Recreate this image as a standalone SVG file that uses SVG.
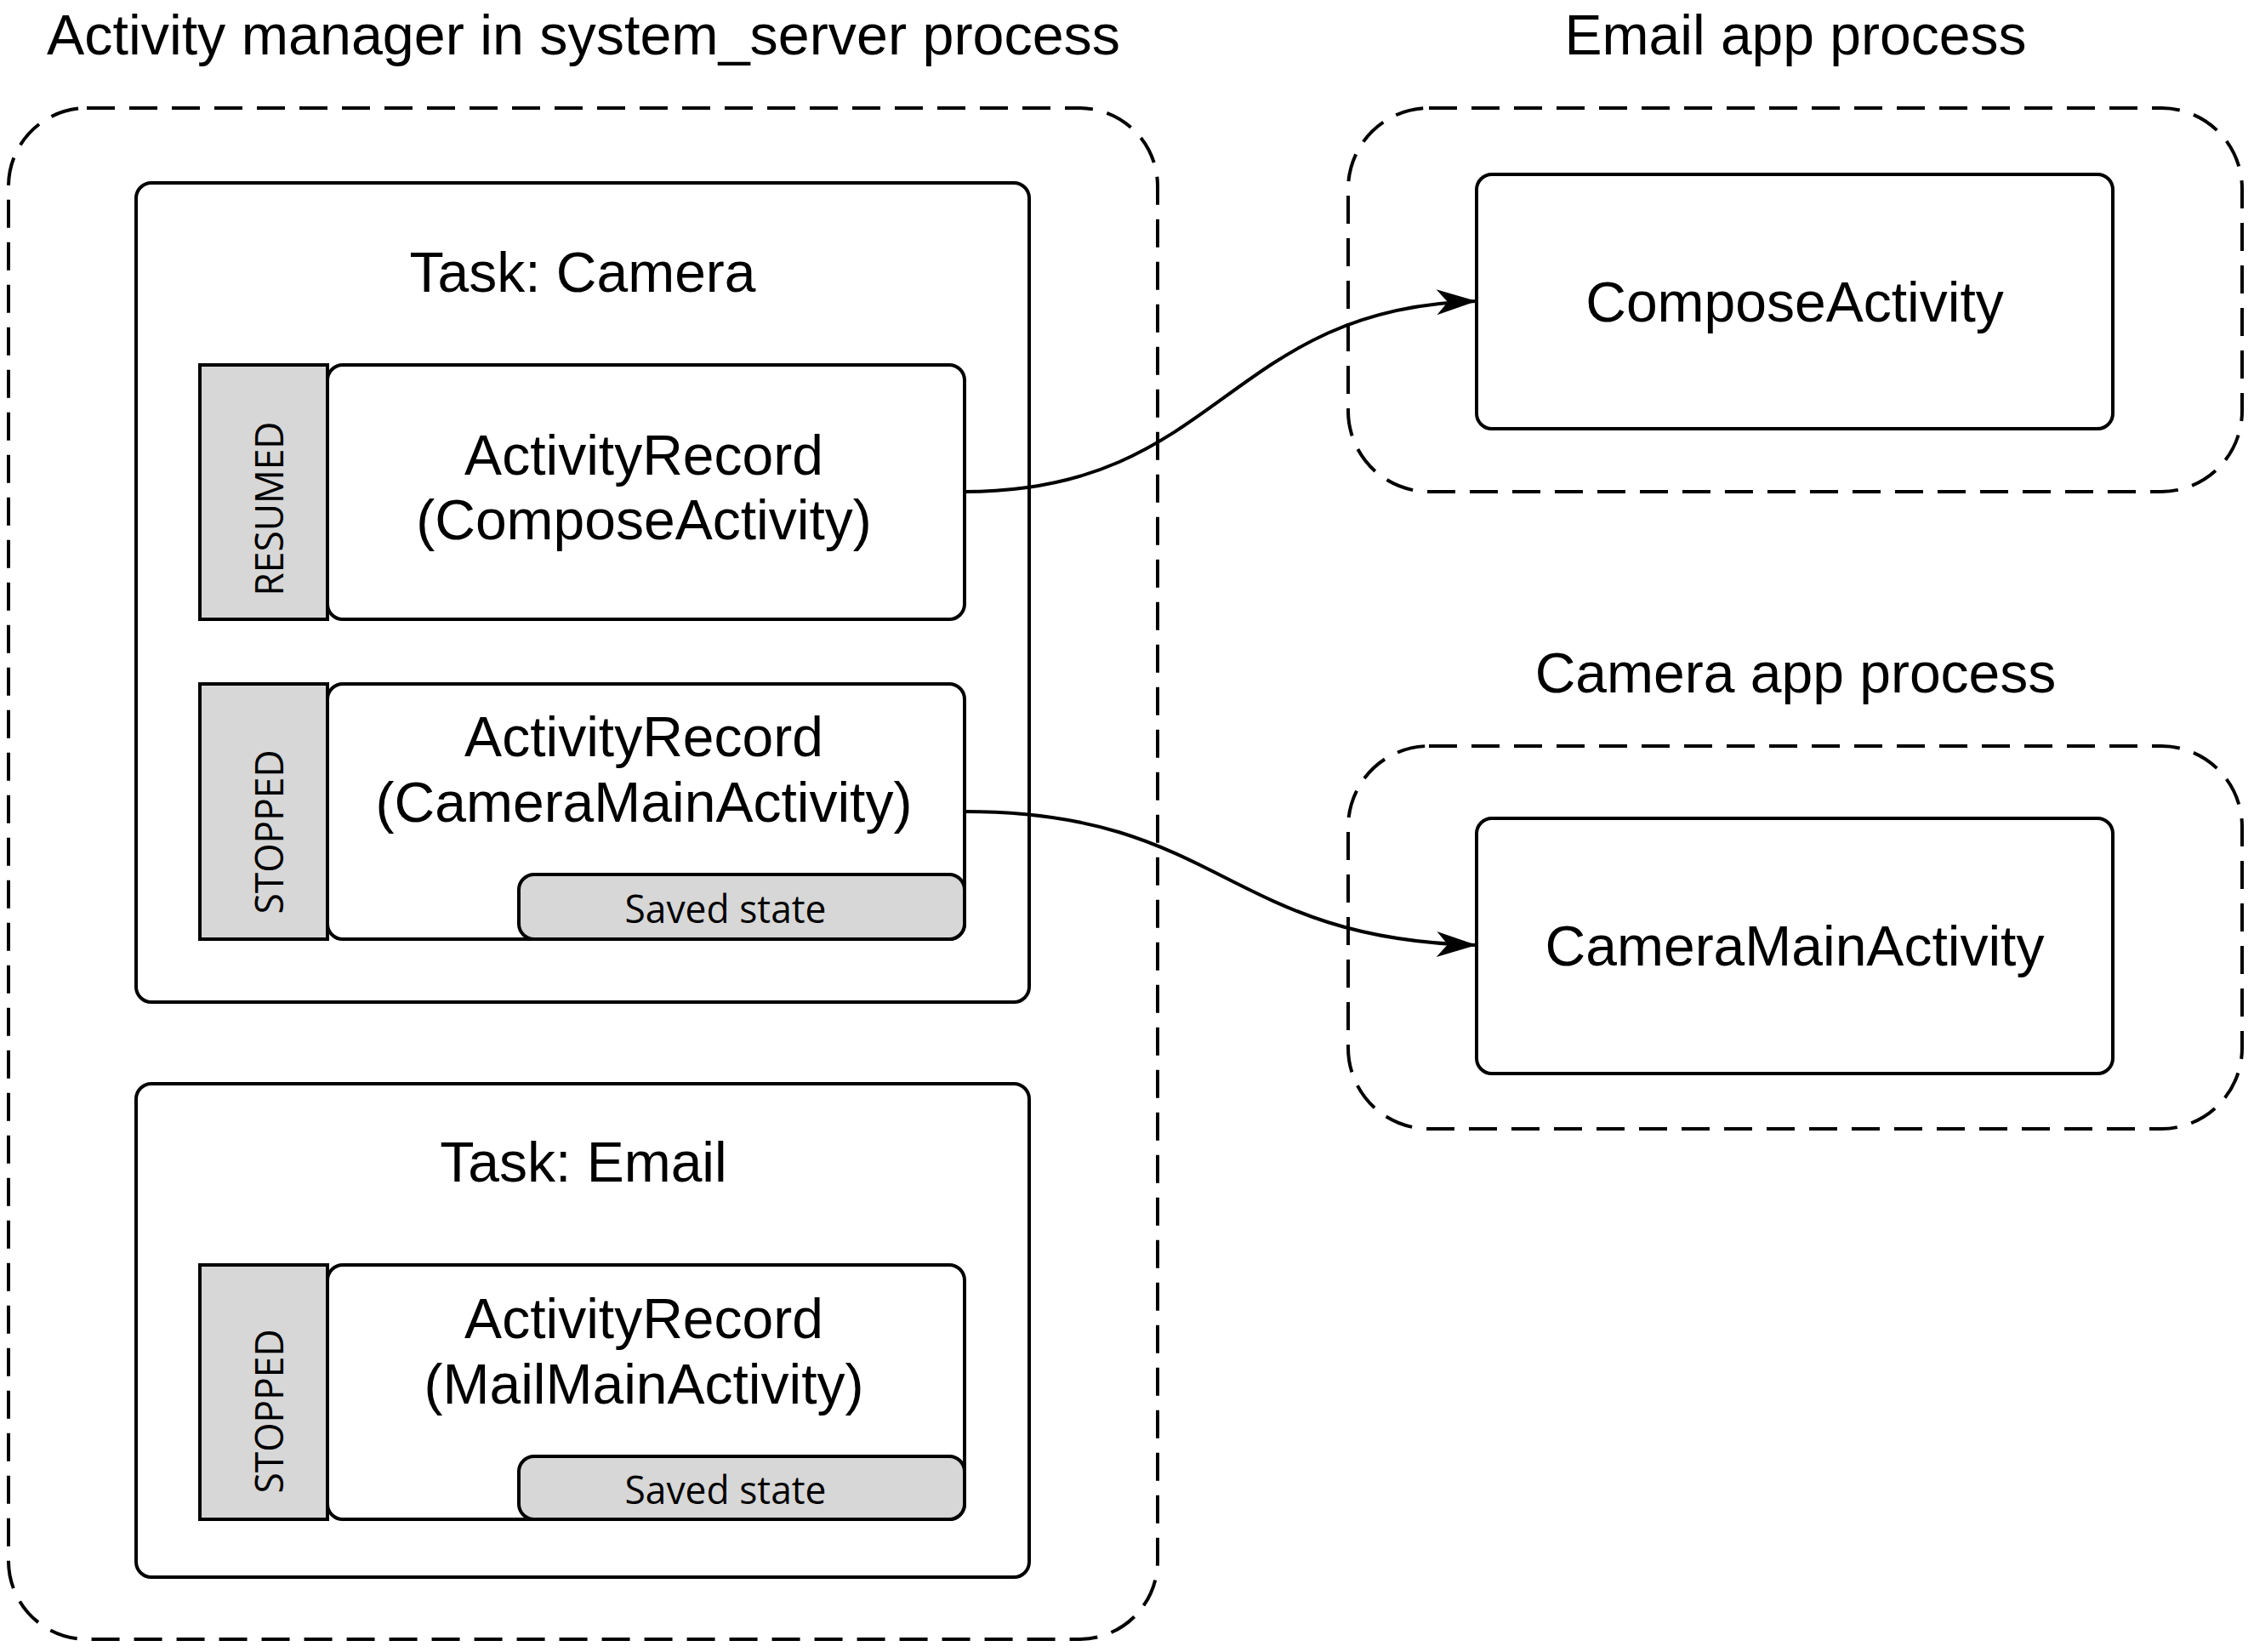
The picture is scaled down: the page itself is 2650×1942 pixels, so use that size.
<svg xmlns="http://www.w3.org/2000/svg" width="2650" height="1942" viewBox="0 0 2650 1942">
<style>
.bg{fill:#fff}
.proc{fill:none;stroke:#000;stroke-width:4;stroke-dasharray:33 17}
.box{fill:#fff;stroke:#000;stroke-width:4}
.gray{fill:#d7d7d7;stroke:#000;stroke-width:4}
.t{font-family:"Liberation Sans",Arial,sans-serif;font-size:66px;fill:#000;text-anchor:middle}
.s{font-family:"Open Sans","DejaVu Sans",sans-serif;font-size:46px;fill:#000;text-anchor:middle}
.conn{fill:none;stroke:#000;stroke-width:4}
</style>
<defs>
<marker id="arr" markerUnits="userSpaceOnUse" markerWidth="52" markerHeight="34" viewBox="-50 -17 52 34" refX="0" refY="0" orient="auto" overflow="visible">
<path d="M0,0 L-47,-15 L-34,0 L-47,15 Z" fill="#000"/>
</marker>
</defs>
<rect class="bg" x="0" y="0" width="2650" height="1942"/>

<g id="system-server">
<text class="t" x="686" y="64" textLength="1262" lengthAdjust="spacingAndGlyphs">Activity manager in system_server process</text>
<rect class="proc" x="10" y="127" width="1351" height="1800" rx="92" ry="92"/>
</g>

<g id="task-camera">
<rect class="box" x="160" y="215" width="1050" height="963" rx="18" ry="18"/>
<text class="t" x="685" y="343">Task: Camera</text>
</g>

<g id="record-compose">
<rect class="box" x="385" y="429" width="749" height="299" rx="18" ry="18"/>
<rect class="gray" x="235" y="429" width="150" height="299"/>
<text class="s" transform="translate(333,598) rotate(-90)" textLength="205" lengthAdjust="spacingAndGlyphs">RESUMED</text>
<text class="t" x="757" y="558">ActivityRecord</text>
<text class="t" x="757" y="634">(ComposeActivity)</text>
</g>

<g id="record-camera">
<rect class="box" x="385" y="804" width="749" height="300" rx="18" ry="18"/>
<rect class="gray" x="235" y="804" width="150" height="300"/>
<text class="s" transform="translate(333,978) rotate(-90)" textLength="193" lengthAdjust="spacingAndGlyphs">STOPPED</text>
<text class="t" x="757" y="889">ActivityRecord</text>
<text class="t" x="757" y="966">(CameraMainActivity)</text>
<rect class="gray" x="610" y="1028" width="524" height="76" rx="18" ry="18"/>
<text class="s" x="853" y="1085" textLength="237" lengthAdjust="spacingAndGlyphs">Saved state</text>
</g>

<g id="task-email">
<rect class="box" x="160" y="1274" width="1050" height="580" rx="18" ry="18"/>
<text class="t" x="686" y="1389">Task: Email</text>
</g>

<g id="record-mail">
<rect class="box" x="385" y="1487" width="749" height="299" rx="18" ry="18"/>
<rect class="gray" x="235" y="1487" width="150" height="299"/>
<text class="s" transform="translate(333,1659) rotate(-90)" textLength="193" lengthAdjust="spacingAndGlyphs">STOPPED</text>
<text class="t" x="757" y="1573">ActivityRecord</text>
<text class="t" x="757" y="1650">(MailMainActivity)</text>
<rect class="gray" x="610" y="1712" width="524" height="74" rx="18" ry="18"/>
<text class="s" x="853" y="1768" textLength="237" lengthAdjust="spacingAndGlyphs">Saved state</text>
</g>

<g id="email-process">
<text class="t" x="2111" y="64">Email app process</text>
<rect class="proc" x="1585" y="127" width="1051" height="451" rx="95" ry="95"/>
</g>

<g id="compose-activity">
<rect class="box" x="1736" y="205" width="748" height="299" rx="18" ry="18"/>
<text class="t" x="2110" y="378">ComposeActivity</text>
</g>

<g id="camera-process">
<text class="t" x="2111" y="814">Camera app process</text>
<rect class="proc" x="1585" y="877" width="1051" height="450" rx="95" ry="95"/>
</g>

<g id="camera-main-activity">
<rect class="box" x="1736" y="962" width="748" height="300" rx="18" ry="18"/>
<text class="t" x="2110" y="1135">CameraMainActivity</text>
</g>

<g id="connectors">
<path class="conn" d="M1134,578 C1435,578 1440,362 1736,354" marker-end="url(#arr)"/>
<path class="conn" d="M1134,954 C1435,954 1440,1104 1736,1111" marker-end="url(#arr)"/>
</g>
</svg>
